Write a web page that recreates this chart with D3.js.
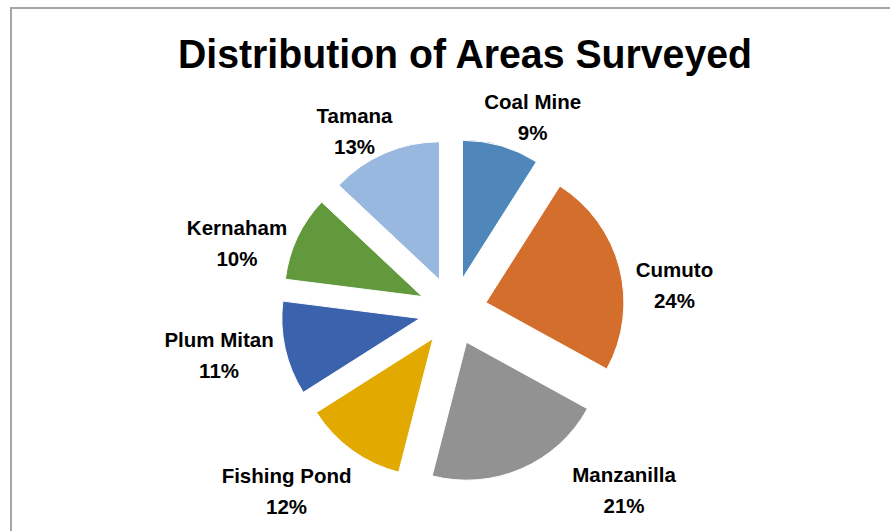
<!DOCTYPE html>
<html>
<head>
<meta charset="utf-8">
<script src="https://cdn.jsdelivr.net/npm/d3@7"></script>
<style>
  html, body { margin: 0; padding: 0; background: #fff; }
  svg { display: block; }
</style>
</head>
<body>
<svg id="chart" width="890" height="531"></svg>
<script>
// ---- data ----
const title = "Distribution of Areas Surveyed";
const categories = ["Coal Mine", "Cumuto", "Manzanilla", "Fishing Pond", "Plum Mitan", "Kernaham", "Tamana"];
const values = [9, 24, 21, 12, 11, 10, 13];
const colors = ["#4f87bb", "#d36e2c", "#929292", "#e2aa00", "#3b62ad", "#62993c", "#98b8e0"];

// ---- layout ----
const W = 890, H = 531;
const cx = 453, cy = 311, R = 138, explode = 34;
// label placement (polar around pie centre: angle in degrees clockwise from top, distance)
const labelPolar = [
  [22.3, 210], [83.3, 223], [136.3, 247.5], [222.8, 245],
  [259.4, 238], [287.5, 226.5], [331.3, 205]
];
const font = "'Liberation Sans', Arial, Helvetica, sans-serif";

const svg = d3.select("#chart");

// border (chart area frame, partially clipped by the window)
svg.append("rect")
  .attr("x", 11).attr("y", 8)
  .attr("width", W + 20).attr("height", H + 20)
  .attr("fill", "#fff")
  .attr("stroke", "#a6a6a6")
  .attr("stroke-width", 2);

// title
svg.append("text")
  .attr("x", 465).attr("y", 68)
  .attr("text-anchor", "middle")
  .attr("font-family", font)
  .attr("font-weight", "bold")
  .attr("font-size", 40)
  .attr("textLength", 574)
  .attr("lengthAdjust", "spacingAndGlyphs")
  .attr("fill", "#000")
  .text(title);

const total = d3.sum(values);
const pie = d3.pie().sort(null).value(d => d)(values);
const arc = d3.arc().innerRadius(0).outerRadius(R);

const g = svg.append("g").attr("transform", `translate(${cx},${cy})`);

g.selectAll("path.slice")
  .data(pie)
  .join("path")
  .attr("class", "slice")
  .attr("d", arc)
  .attr("fill", (d, i) => colors[i])
  .attr("stroke", "#ffffff")
  .attr("stroke-width", 1)
  .attr("transform", d => {
    const m = (d.startAngle + d.endAngle) / 2;
    return `translate(${explode * Math.sin(m)},${-explode * Math.cos(m)})`;
  });

const pct = d3.format(".0%");
const lab = g.selectAll("g.lab")
  .data(pie)
  .join("g")
  .attr("class", "lab")
  .attr("transform", (d, i) => {
    const a = labelPolar[i][0] * Math.PI / 180, r = labelPolar[i][1];
    return `translate(${r * Math.sin(a)},${-r * Math.cos(a) - 8})`;
  });

lab.append("text")
  .attr("text-anchor", "middle")
  .attr("font-family", font)
  .attr("font-weight", "bold")
  .attr("font-size", 20.5)
  .attr("fill", "#000")
  .attr("y", 0)
  .text((d, i) => categories[i]);

lab.append("text")
  .attr("text-anchor", "middle")
  .attr("font-family", font)
  .attr("font-weight", "bold")
  .attr("font-size", 20.5)
  .attr("fill", "#000")
  .attr("y", 31)
  .text(d => pct(d.data / total));
</script>
</body>
</html>
